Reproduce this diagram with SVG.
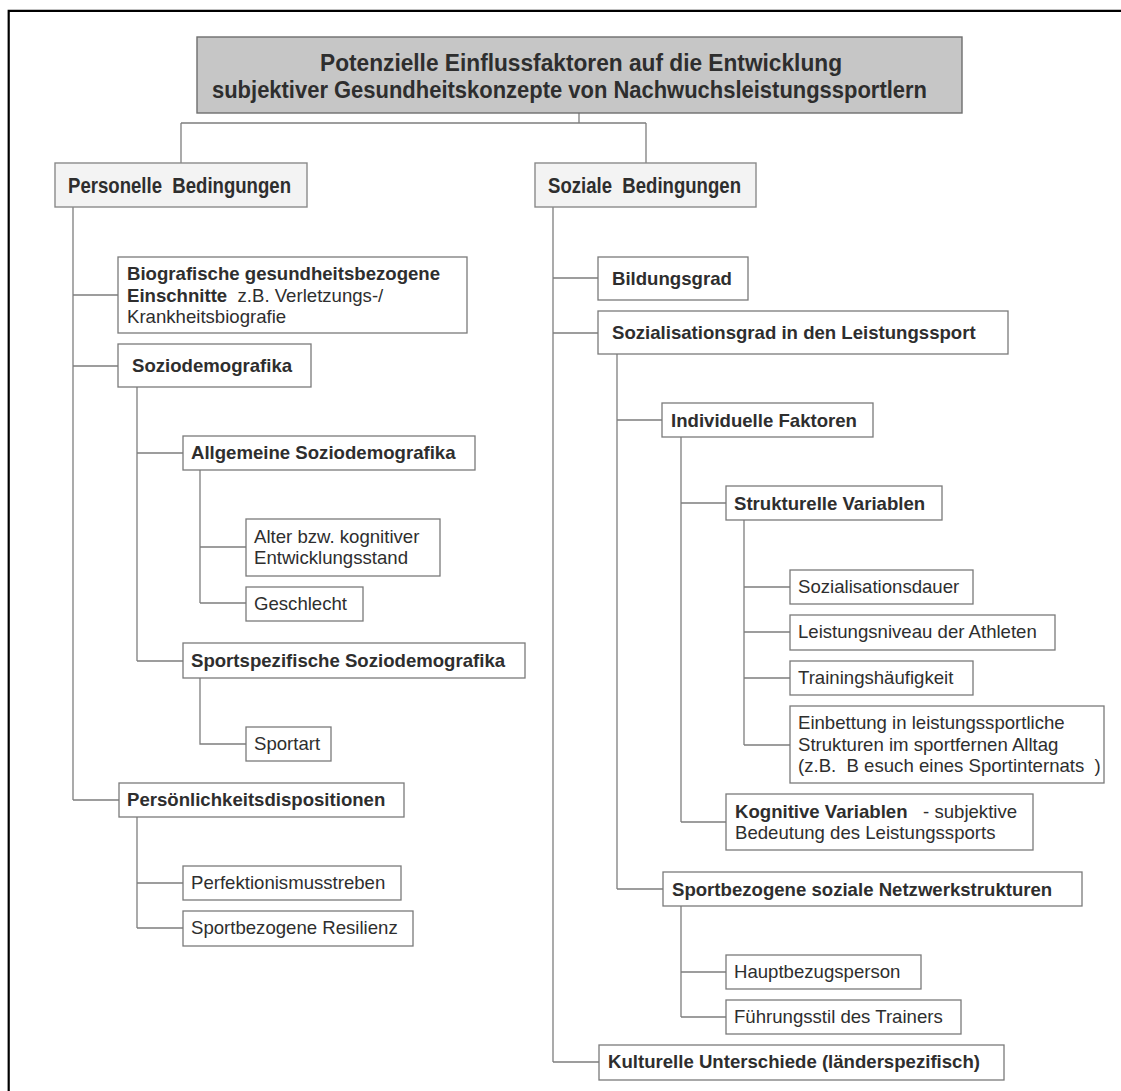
<svg xmlns="http://www.w3.org/2000/svg" width="1121" height="1091" viewBox="0 0 1121 1091">
  <style>
    .frame { stroke: #000; stroke-width: 2.2; fill: none; }
    .box { fill: #fff; stroke: #7a7a7a; stroke-width: 1.3; }
    .head { fill: #c6c6c6; stroke: #6e6e6e; stroke-width: 1.4; }
    .branch { fill: #f3f3f3; stroke: #8a8a8a; stroke-width: 1.4; }
    .conn { stroke: #7e7e7e; stroke-width: 1.3; fill: none; }
    text { font-family: "Liberation Sans", Arial, sans-serif; fill: #2e2e2e; font-size: 18.6px; white-space: pre; }
    .b { font-weight: bold; }
    .cond { font-weight: bold; font-size: 23.5px; }
    .cond2 { font-weight: bold; font-size: 22.5px; }
  </style>

  <rect width="1121" height="1091" fill="#fff"/>
  <!-- page frame: top and left rules only -->
  <path class="frame" d="M8.7 1091 V10.8 H1121"/>

  <!-- connectors -->
  <g id="connectors">
    <path class="conn" d="M579 113 V123 M181 123 H646 M181 123 V163 M646 123 V163"/>
    <!-- personal conditions -->
    <path class="conn" d="M73 207 V800 M73 295 H118 M73 366 H118 M73 800 H119"/>
    <path class="conn" d="M137 387 V661 M137 453 H183 M137 661 H183"/>
    <path class="conn" d="M200 470 V603 M200 547 H246 M200 603 H246"/>
    <path class="conn" d="M200 678 V744 H246"/>
    <path class="conn" d="M137 817 V928 M137 883 H183 M137 928 H183"/>
    <!-- social conditions -->
    <path class="conn" d="M553 207 V1062 M553 278 H598 M553 333 H598 M553 1062 H599"/>
    <path class="conn" d="M617 354 V889 M617 420 H662 M617 889 H663"/>
    <path class="conn" d="M681 437 V822 M681 503 H726 M681 822 H726"/>
    <path class="conn" d="M744 520 V745 M744 587 H790 M744 632 H790 M744 678 H790 M744 745 H790"/>
    <path class="conn" d="M681 906 V1017 M681 972 H726 M681 1017 H726"/>
  </g>

  <g id="title">
    <rect class="head" x="197" y="37" width="765" height="76"/>
    <text class="cond" x="320" y="71" textLength="522" lengthAdjust="spacingAndGlyphs">Potenzielle Einflussfaktoren auf die Entwicklung</text>
    <text class="cond" x="212" y="98" textLength="715" lengthAdjust="spacingAndGlyphs">subjektiver Gesundheitskonzepte von Nachwuchsleistungssportlern</text>
  </g>

  <g id="personelle">
    <rect class="branch" x="55" y="163" width="252" height="44"/>
    <text class="cond2" x="68" y="193" textLength="223" lengthAdjust="spacingAndGlyphs">Personelle  Bedingungen</text>
  </g>
  <g id="soziale">
    <rect class="branch" x="535" y="163" width="221" height="44"/>
    <text class="cond2" x="548" y="193" textLength="193" lengthAdjust="spacingAndGlyphs">Soziale  Bedingungen</text>
  </g>

  <!-- left branch -->
  <g id="biografische">
    <rect class="box" x="118" y="257" width="349" height="76"/>
    <text x="127" y="280" class="b">Biografische gesundheitsbezogene</text>
    <text x="127" y="302"><tspan class="b">Einschnitte</tspan>  z.B. Verletzungs-/</text>
    <text x="127" y="323">Krankheitsbiografie</text>
  </g>
  <g id="soziodemografika">
    <rect class="box" x="118" y="344" width="193" height="43"/>
    <text x="132" y="372" class="b">Soziodemografika</text>
  </g>
  <g id="allgemeine">
    <rect class="box" x="183" y="436" width="292" height="34"/>
    <text x="191" y="459" class="b">Allgemeine Soziodemografika</text>
  </g>
  <g id="alter">
    <rect class="box" x="246" y="519" width="194" height="57"/>
    <text x="254" y="543">Alter bzw. kognitiver</text>
    <text x="254" y="564">Entwicklungsstand</text>
  </g>
  <g id="geschlecht">
    <rect class="box" x="246" y="587" width="117" height="34"/>
    <text x="254" y="610">Geschlecht</text>
  </g>
  <g id="sportspezifische">
    <rect class="box" x="183" y="643" width="342" height="35"/>
    <text x="191" y="667" class="b">Sportspezifische Soziodemografika</text>
  </g>
  <g id="sportart">
    <rect class="box" x="246" y="727" width="85" height="34"/>
    <text x="254" y="750">Sportart</text>
  </g>
  <g id="persoenlichkeit">
    <rect class="box" x="119" y="783" width="285" height="34"/>
    <text x="127" y="806" class="b">Persönlichkeitsdispositionen</text>
  </g>
  <g id="perfektionismus">
    <rect class="box" x="183" y="866" width="218" height="34"/>
    <text x="191" y="889">Perfektionismusstreben</text>
  </g>
  <g id="resilienz">
    <rect class="box" x="183" y="911" width="230" height="35"/>
    <text x="191" y="934">Sportbezogene Resilienz</text>
  </g>

  <!-- right branch -->
  <g id="bildungsgrad">
    <rect class="box" x="598" y="257" width="150" height="43"/>
    <text x="612" y="285" class="b">Bildungsgrad</text>
  </g>
  <g id="sozialisationsgrad">
    <rect class="box" x="598" y="311" width="410" height="43"/>
    <text x="612" y="339" class="b">Sozialisationsgrad in den Leistungssport</text>
  </g>
  <g id="individuelle">
    <rect class="box" x="662" y="403" width="211" height="34"/>
    <text x="671" y="427" class="b">Individuelle Faktoren</text>
  </g>
  <g id="strukturelle">
    <rect class="box" x="726" y="486" width="216" height="34"/>
    <text x="734" y="510" class="b">Strukturelle Variablen</text>
  </g>
  <g id="sozialisationsdauer">
    <rect class="box" x="790" y="570" width="183" height="34"/>
    <text x="798" y="593">Sozialisationsdauer</text>
  </g>
  <g id="leistungsniveau">
    <rect class="box" x="790" y="615" width="265" height="35"/>
    <text x="798" y="638">Leistungsniveau der Athleten</text>
  </g>
  <g id="trainingshaeufigkeit">
    <rect class="box" x="790" y="661" width="183" height="34"/>
    <text x="798" y="684">Trainingshäufigkeit</text>
  </g>
  <g id="einbettung">
    <rect class="box" x="790" y="706" width="314" height="77"/>
    <text x="798" y="729">Einbettung in leistungssportliche</text>
    <text x="798" y="751">Strukturen im sportfernen Alltag</text>
    <text x="798" y="772">(z.B.  B esuch eines Sportinternats  )</text>
  </g>
  <g id="kognitive">
    <rect class="box" x="726" y="794" width="307" height="56"/>
    <text x="735" y="818"><tspan class="b">Kognitive Variablen</tspan>   - subjektive</text>
    <text x="735" y="839">Bedeutung des Leistungssports</text>
  </g>
  <g id="netzwerk">
    <rect class="box" x="663" y="872" width="419" height="34"/>
    <text x="672" y="896" class="b">Sportbezogene soziale Netzwerkstrukturen</text>
  </g>
  <g id="hauptbezugsperson">
    <rect class="box" x="726" y="955" width="195" height="34"/>
    <text x="734" y="978">Hauptbezugsperson</text>
  </g>
  <g id="fuehrungsstil">
    <rect class="box" x="726" y="1000" width="235" height="34"/>
    <text x="734" y="1023">Führungsstil des Trainers</text>
  </g>
  <g id="kulturelle">
    <rect class="box" x="599" y="1045" width="405" height="35"/>
    <text x="608" y="1068" class="b">Kulturelle Unterschiede (länderspezifisch)</text>
  </g>
</svg>
